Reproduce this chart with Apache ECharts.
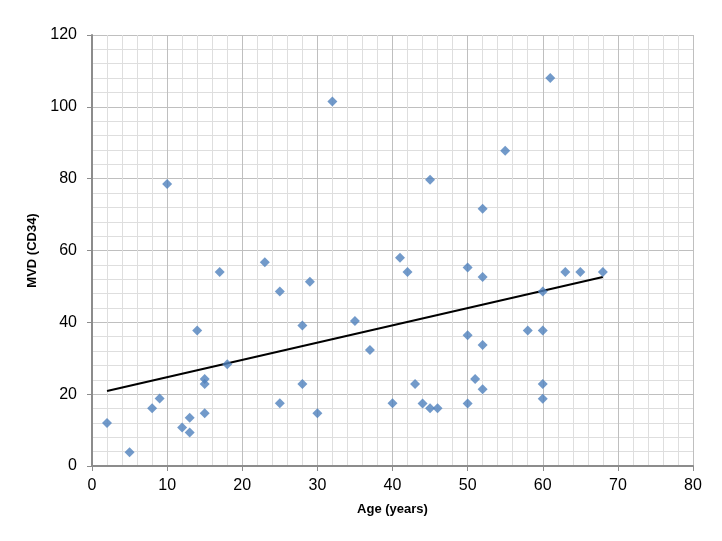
<!DOCTYPE html>
<html lang="en">
<head>
    <meta charset="UTF-8">
    <title>MVD vs Age</title>
    <script src="https://cdn.jsdelivr.net/npm/echarts@6/dist/echarts.min.js"></script>
    <style>
        html, body { margin: 0; padding: 0; background: #fff; }
    </style>
</head>
<body>
<div class="main" style="width: 722px;height:541px;"></div>
<script>
    // ages (x) and MVD values (y)
    let ages = [2, 5, 8, 9, 10, 12, 13, 13, 14, 15, 15, 15, 17, 18, 23, 25, 25, 28, 28, 29,
        30, 32, 35, 37, 40, 41, 42, 43, 44, 45, 45, 46, 50, 50, 50, 51, 52, 52, 52, 52,
        55, 58, 60, 60, 60, 60, 61, 63, 65, 68];
    let mvd = [12.0, 3.8, 16.1, 18.8, 78.5, 10.7, 13.4, 9.3, 37.7, 24.2, 22.8, 14.7, 54.0, 28.3, 56.7, 48.6, 17.5, 39.1, 22.8, 51.3,
        14.7, 101.5, 40.4, 32.3, 17.5, 58.0, 54.0, 22.8, 17.4, 79.7, 16.1, 16.1, 55.3, 36.4, 17.4, 24.2, 71.6, 52.6, 33.7, 21.4,
        87.8, 37.7, 48.6, 37.7, 22.8, 18.7, 108.0, 54.0, 54.0, 54.0];
    // linear trendline end points
    let trendX = [2, 68];
    let trendY = [20.9, 52.6];

    let xTicks = [0, 10, 20, 30, 40, 50, 60, 70, 80];
    let yTicks = [0, 20, 40, 60, 80, 100, 120];

    let points = ages.map((a, i) => [a, mvd[i]]);
    let trend = trendX.map((a, i) => [a, trendY[i]]);

    let myChart = echarts.init(document.querySelector('.main'));

    let axisCommon = {
        type: 'value',
        nameLocation: 'middle',
        nameTextStyle: {
            fontFamily: 'Liberation Sans',
            fontWeight: 'bold',
            fontSize: 13,
            color: '#000'
        },
        axisLine: {show: true, onZero: false, lineStyle: {color: '#8c8c8c', width: 2}},
        axisTick: {show: true, inside: false, length: 5, lineStyle: {color: '#8c8c8c', width: 1}},
        axisLabel: {fontFamily: 'Liberation Sans', fontSize: 16, color: '#000'},
        splitLine: {show: true, lineStyle: {color: '#bfbfbf', width: 1}},
        minorTick: {show: false, splitNumber: 5},
        minorSplitLine: {show: true, lineStyle: {color: '#dedede', width: 1}}
    };

    let option = {
        animation: false,
        backgroundColor: '#fff',
        grid: {left: 92, right: 29, top: 35, bottom: 75},
        xAxis: Object.assign({}, axisCommon, {
            name: 'Age (years)',
            nameGap: 37,
            min: xTicks[0],
            max: xTicks[xTicks.length - 1],
            interval: 10,
            axisLabel: Object.assign({}, axisCommon.axisLabel, {margin: 12})
        }),
        yAxis: Object.assign({}, axisCommon, {
            name: 'MVD (CD34)',
            nameGap: 47,
            min: yTicks[0],
            max: yTicks[yTicks.length - 1],
            interval: 20,
            axisLabel: Object.assign({}, axisCommon.axisLabel, {margin: 15})
        }),
        series: [{
            type: 'scatter',
            data: points,
            symbol: 'diamond',
            symbolSize: 10,
            itemStyle: {color: '#4f81bd'},
            z: 3
        }, {
            type: 'line',
            data: trend,
            showSymbol: false,
            symbol: 'none',
            lineStyle: {color: '#000', width: 2},
            z: 2
        }]
    };
    myChart.setOption(option);
</script>
</body>
</html>
